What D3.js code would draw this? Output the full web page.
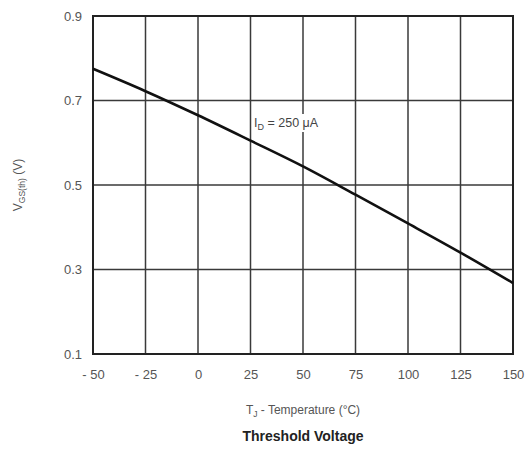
<!DOCTYPE html>
<html>
<head>
<meta charset="utf-8">
<script src="https://cdn.jsdelivr.net/npm/d3@7"></script>
<style>
  body { margin: 0; background: #fff; }
  text { font-family: "Liberation Sans", Arial, sans-serif; }
</style>
</head>
<body>
<div class="chart"></div>
<script>
// data
var temps = [-50, -25, 0, 25, 50, 75, 100, 125, 150];
var vgs = [0.775, 0.722, 0.665, 0.605, 0.544, 0.477, 0.409, 0.34, 0.268];
var xTicks = [-50, -25, 0, 25, 50, 75, 100, 125, 150];
var yTicks = [0.1, 0.3, 0.5, 0.7, 0.9];

const width = 527
const height = 453
const m = {left: 93, right: 14, top: 16, bottom: 99}

let svg = d3.select('.chart')
  .append('svg')
  .attr('width', width)
  .attr('height', height)

let x = d3.scaleLinear().domain([-50, 150]).range([m.left, width - m.right])
let y = d3.scaleLinear().domain([0.1, 0.9]).range([height - m.bottom, m.top])

// grid
svg.selectAll('line.vgrid')
  .data(xTicks.slice(1, -1))
  .enter()
  .append('line')
  .attr('x1', d => x(d)).attr('x2', d => x(d))
  .attr('y1', y(0.9)).attr('y2', y(0.1))
  .attr('stroke', '#3a3a3a')
  .attr('stroke-width', 1.5)

svg.selectAll('line.hgrid')
  .data(yTicks.slice(1, -1))
  .enter()
  .append('line')
  .attr('x1', x(-50)).attr('x2', x(150))
  .attr('y1', d => y(d)).attr('y2', d => y(d))
  .attr('stroke', '#3a3a3a')
  .attr('stroke-width', 1.5)

// frame
svg.append('rect')
  .attr('x', x(-50)).attr('y', y(0.9))
  .attr('width', x(150) - x(-50))
  .attr('height', y(0.1) - y(0.9))
  .attr('fill', 'none')
  .attr('stroke', '#222')
  .attr('stroke-width', 2)

// axes (labels only)
let xAxis = svg.append('g')
  .attr('transform', 'translate(0,' + (height - m.bottom) + ')')
  .call(d3.axisBottom(x).tickValues(xTicks).tickSize(0).tickPadding(16)
    .tickFormat(d => d < 0 ? '- ' + Math.abs(d) : d))
xAxis.select('.domain').remove()
xAxis.selectAll('text').attr('font-size', 13).attr('fill', '#555').attr('font-family', '"Liberation Sans", Arial, sans-serif')

let yAxis = svg.append('g')
  .attr('transform', 'translate(' + m.left + ',0)')
  .call(d3.axisLeft(y).tickValues(yTicks).tickSize(0).tickPadding(11)
    .tickFormat(d3.format('.1f')))
yAxis.select('.domain').remove()
yAxis.selectAll('text').attr('font-size', 13).attr('fill', '#555').attr('font-family', '"Liberation Sans", Arial, sans-serif')

// curve
svg.append('path')
  .datum(temps.map((t, i) => [t, vgs[i]]))
  .attr('fill', 'none')
  .attr('stroke', '#111')
  .attr('stroke-width', 2.6)
  .attr('d', d3.line().x(d => x(d[0])).y(d => y(d[1])).curve(d3.curveMonotoneX))

// annotation, white behind it so the grid breaks
svg.append('rect')
  .attr('x', 253).attr('y', 114)
  .attr('width', 86).attr('height', 18)
  .attr('fill', '#fff')
let ann = svg.append('text')
  .attr('x', 254).attr('y', 127)
  .attr('font-size', 12.5).attr('fill', '#444')
ann.append('tspan').text('I')
ann.append('tspan').text('D').attr('font-size', 9).attr('dy', 3)
ann.append('tspan').text(' = 250 \u03bcA').attr('dy', -3)

// y title
let yt = svg.append('text')
  .attr('transform', 'translate(22,' + ((y(0.9) + y(0.1)) / 2) + ') rotate(-90)')
  .attr('text-anchor', 'middle')
  .attr('font-size', 12).attr('fill', '#555')
yt.append('tspan').text('V')
yt.append('tspan').text('GS(th)').attr('font-size', 8.5).attr('dy', 3)
yt.append('tspan').text(' (V)').attr('dy', -3)

// x title
let xt = svg.append('text')
  .attr('x', 303).attr('y', 414)
  .attr('text-anchor', 'middle')
  .attr('font-size', 12).attr('fill', '#555')
xt.append('tspan').text('T')
xt.append('tspan').text('J').attr('font-size', 8.5).attr('dy', 3)
xt.append('tspan').text(' - Temperature (°C)').attr('dy', -3)

svg.append('text')
  .attr('x', 303).attr('y', 441)
  .attr('text-anchor', 'middle')
  .attr('font-size', 14).attr('font-weight', 'bold').attr('fill', '#222')
  .text('Threshold Voltage')
</script>
</body>
</html>
